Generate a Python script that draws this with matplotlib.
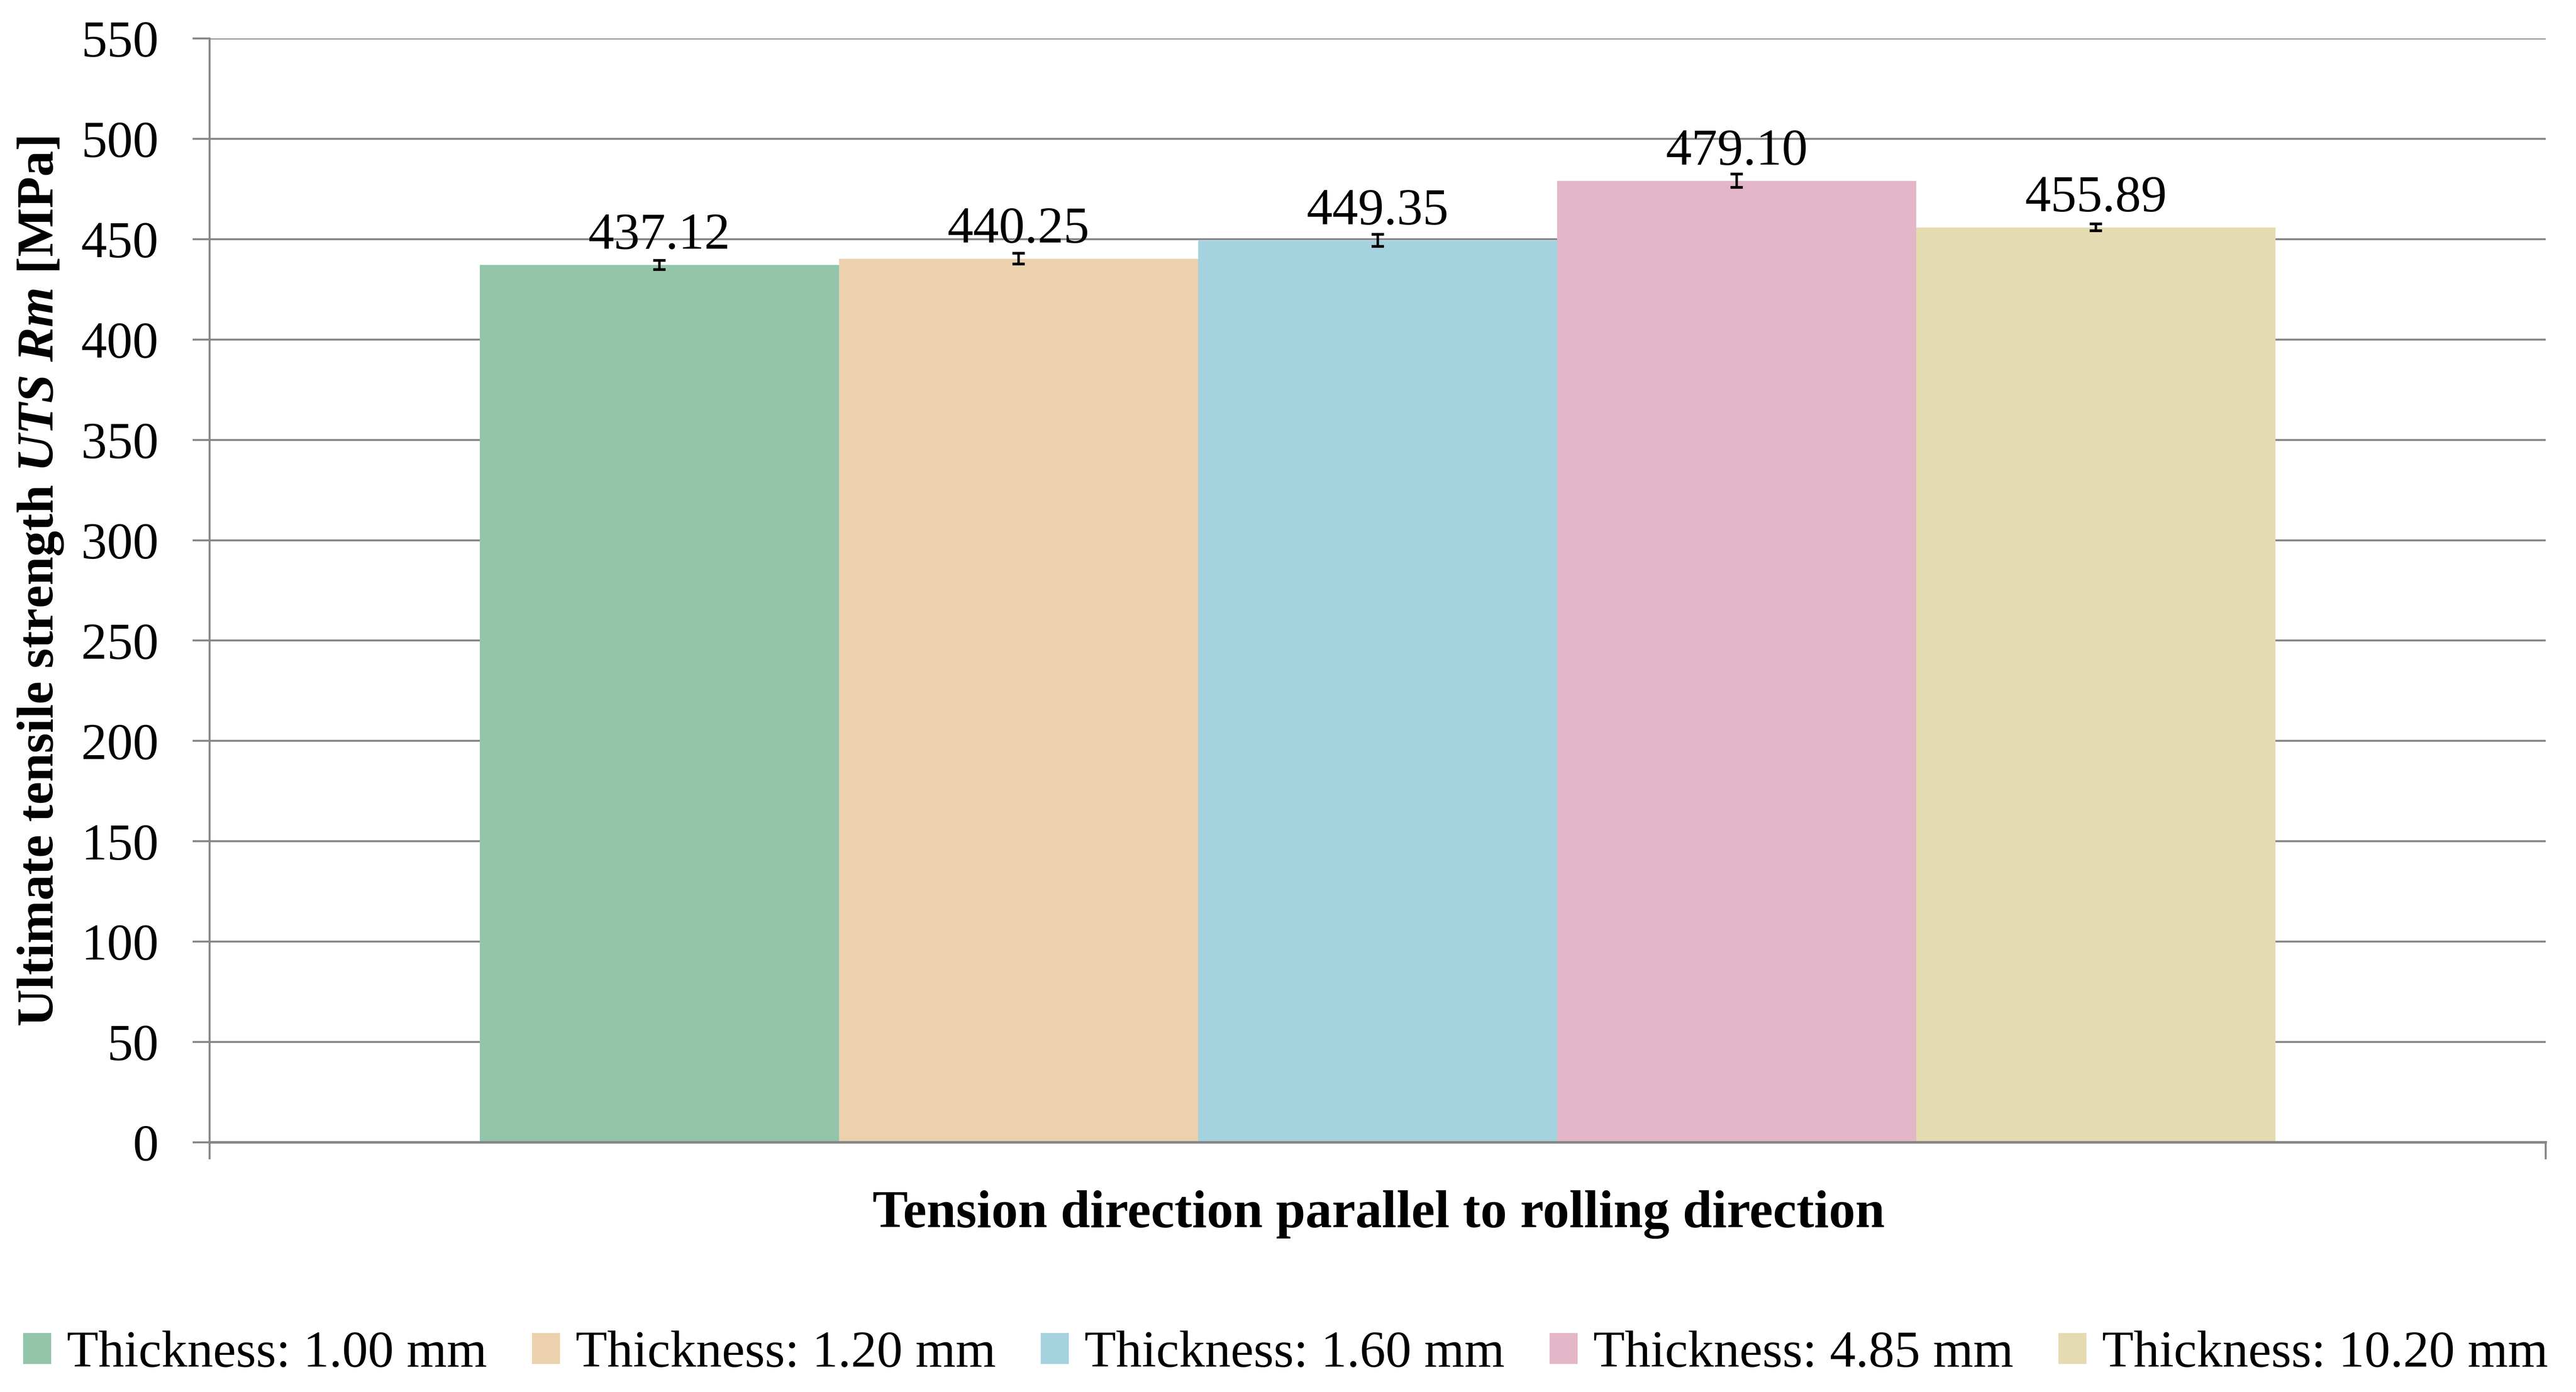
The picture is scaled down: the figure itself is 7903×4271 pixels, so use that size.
import matplotlib
matplotlib.use("Agg")
import matplotlib.pyplot as plt
import numpy as np

# ---- data ----
series_labels = ["Thickness: 1.00 mm", "Thickness: 1.20 mm", "Thickness: 1.60 mm",
                 "Thickness: 4.85 mm", "Thickness: 10.20 mm"]
uts_values = [437.12, 440.25, 449.35, 479.10, 455.89]
uts_errors = [2.3, 2.7, 3.0, 3.3, 1.7]
value_labels = ["437.12", "440.25", "449.35", "479.10", "455.89"]
bar_colors = ["#92C5A9", "#EBD1AE", "#A4D2DE", "#E4B7C8", "#E4DBB1"]
y_ticks = [0, 50, 100, 150, 200, 250, 300, 350, 400, 450, 500, 550]
x_label = "Tension direction parallel to rolling direction"
y_label = r"Ultimate tensile strength $UTS$ $Rm$ [MPa]"

plt.rcParams["font.family"] = ["Liberation Serif", "DejaVu Serif"]
plt.rcParams["mathtext.fontset"] = "custom"
plt.rcParams["mathtext.it"] = "Liberation Serif:italic:bold"
plt.rcParams["mathtext.rm"] = "Liberation Serif:bold"

W, H = 7903, 4271
DPI = 300
fig = plt.figure(figsize=(W / DPI, H / DPI), dpi=DPI)
ax = fig.add_axes([643 / W, 1 - 3505 / H, (7810 - 643) / W, (3505 - 118) / H])

FS = 38
GRID = "#878787"

n = len(uts_values)
bw = 0.7688 / n
xs = (np.arange(n) - (n - 1) / 2) * bw

bars = ax.bar(xs, uts_values, width=bw, color=bar_colors, edgecolor="none",
              zorder=2, label=series_labels)
ax.errorbar(xs, uts_values, yerr=uts_errors, fmt="none", ecolor="black",
            elinewidth=1.8, capsize=4.6, capthick=2.0, zorder=3)

for x, v, t in zip(xs, uts_values, value_labels):
    ax.annotate(t, xy=(x, v), xytext=(0, 12), textcoords="offset points",
                ha="center", va="baseline", fontsize=FS, color="black", zorder=4)

ax.set_xlim(-0.5, 0.5)
ax.set_ylim(0, 550)
ax.set_yticks(y_ticks)
ax.set_yticklabels([str(t) for t in y_ticks])
ax.set_xticks([-0.5, 0.5])
ax.set_xticklabels(["", ""])

ax.yaxis.grid(True, color=GRID, linewidth=1.45, zorder=0)
ax.set_axisbelow(True)
for s in ["top", "right"]:
    ax.spines[s].set_visible(False)
for s in ["left", "bottom"]:
    ax.spines[s].set_color(GRID)
    ax.spines[s].set_linewidth(1.45)
ax.spines["bottom"].set_linewidth(1.9)

ax.tick_params(axis="y", direction="out", length=12.5, width=1.45, color=GRID,
               labelsize=FS, labelcolor="black", pad=25)
ax.tick_params(axis="x", direction="out", length=12.5, width=1.45, color=GRID)

fig.text(4230 / W, 1 - 3765 / H, x_label, ha="center", va="baseline",
         fontsize=39, fontweight="bold")
fig.text(125 / W, 1 - 1785 / H, y_label, ha="center", va="center",
         rotation=90, fontsize=FS, fontweight="bold")

leg = fig.legend(handles=bars.patches, labels=series_labels, loc="center",
                 bbox_to_anchor=(71 / W, 1 - 4200 / H, (7817 - 71) / W, 90 / H),
                 mode="expand", ncol=n, frameon=False, fontsize=FS,
                 handlelength=0.545, handleheight=0.545, handletextpad=0.3,
                 borderpad=0, borderaxespad=0, columnspacing=0.5)

fig.savefig("out.png", dpi=DPI)
